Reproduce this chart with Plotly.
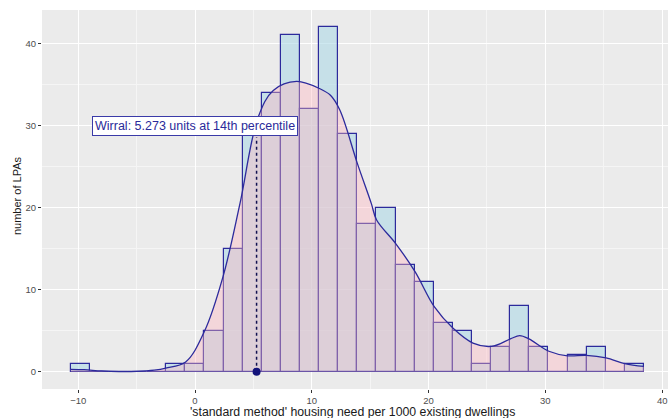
import plotly.graph_objects as go

# ---- data ----
bin_start = -10.64
bin_width = 1.636
counts = [1, 0, 0, 0, 0, 1, 1, 5, 15, 29, 34, 41, 32, 42, 29, 18, 20, 13, 11, 6,
          5, 1, 3, 8, 3, 0, 2, 3, 0, 1]

density_x = [-10.64, -9.5, -8.0, -6.5, -5.0, -3.5, -2.5, -0.8, 0.8, 2.4, 3.85, 5.4, 6.7,
             8.7, 10.7, 11.6, 12.4, 13.9, 15.1, 15.55, 17.2, 18.84, 20.5, 22.1, 23.8,
             25.4, 27.0, 27.8, 28.6, 30.3, 31.9, 33.5, 35.2, 36.8, 38.44]
density_y = [0.3, 0.25, 0.1, 0.03, 0.05, 0.2, 0.45, 1.2, 4.9, 11.6, 20.5, 31.0, 34.3,
             35.4, 34.5, 33.7, 31.9, 25.4, 20.5, 18.5, 15.6, 12.2, 7.9, 5.3, 3.5,
             3.1, 4.0, 4.4, 4.0, 2.5, 1.95, 2.0, 1.7, 1.0, 0.65]

wirral_x = 5.273
wirral_line_top = 28.6
label_x = 0
label_y = 30
label_text = "Wirral: 5.273 units at 14th percentile"

x_title = "'standard method' housing need per 1000 existing dwellings"
y_title = "number of LPAs"

bin_centers = [bin_start + bin_width * (k + 0.5) for k in range(len(counts))]

NAVY = "#2c2a9c"
FONT = "Liberation Sans, Arial, sans-serif"

fig = go.Figure()

fig.add_trace(go.Bar(
    x=bin_centers, y=counts, width=[bin_width] * len(counts),
    marker=dict(color="rgba(173,216,230,0.6)", line=dict(color=NAVY, width=1.2)),
    showlegend=False, hoverinfo="skip"))

fig.add_trace(go.Scatter(
    x=density_x, y=density_y, mode="lines", line=dict(color=NAVY, width=1.3, shape="spline"),
    fill="tozeroy", fillcolor="rgba(255,182,193,0.4)", showlegend=False, hoverinfo="skip"))

fig.add_trace(go.Scatter(
    x=[wirral_x, wirral_x], y=[0, wirral_line_top], mode="lines",
    line=dict(color="#101050", width=1.5, dash="dot"), showlegend=False, hoverinfo="skip"))

fig.add_trace(go.Scatter(
    x=[wirral_x], y=[0], mode="markers",
    marker=dict(color="#12127a", size=8), showlegend=False, hoverinfo="skip", cliponaxis=False))

fig.add_annotation(
    x=label_x, y=label_y, xref="x", yref="y", text=label_text, showarrow=False,
    font=dict(family=FONT, size=12.5, color="#2a2a9a"),
    bgcolor="white", bordercolor="#3a3aa8", borderwidth=1, borderpad=2)

fig.add_annotation(
    x=0.5, y=-0.062, xref="paper", yref="paper", text=x_title, showarrow=False,
    xanchor="center", yanchor="middle", xshift=-3,
    font=dict(family=FONT, size=12.3, color="#1a1a1a"))
fig.add_annotation(
    x=-0.041, y=0.51, xref="paper", yref="paper", text=y_title, showarrow=False,
    textangle=-90, xanchor="center", yanchor="middle",
    font=dict(family=FONT, size=11, color="#1a1a1a"))

fig.update_layout(
    width=668, height=418,
    margin=dict(l=42, r=0, t=10, b=29),
    paper_bgcolor="white", plot_bgcolor="#EBEBEB",
    bargap=0,
    font=dict(family=FONT),
    xaxis=dict(
        range=[-13.1, 40.5], tickmode="array", tickvals=[-10, 0, 10, 20, 30, 40],
        ticks="outside", ticklen=3, tickcolor="#333333", tickwidth=1,
        tickfont=dict(family=FONT, size=9.5, color="#4D4D4D"),
        showgrid=True, gridcolor="white", gridwidth=1.1, zeroline=False, showline=False,
        minor=dict(tickvals=[-5, 5, 15, 25, 35], showgrid=True, gridcolor="#F5F5F5", gridwidth=0.6,
                   ticks="")),
    yaxis=dict(
        range=[-2.1, 44.1], tickmode="array", tickvals=[0, 10, 20, 30, 40],
        ticks="outside", ticklen=3, tickcolor="#333333", tickwidth=1,
        tickfont=dict(family=FONT, size=9.5, color="#4D4D4D"),
        showgrid=True, gridcolor="white", gridwidth=1.1, zeroline=False, showline=False,
        minor=dict(tickvals=[5, 15, 25, 35], showgrid=True, gridcolor="#F5F5F5", gridwidth=0.6,
                   ticks="")),
)

fig.write_html("out.html")
